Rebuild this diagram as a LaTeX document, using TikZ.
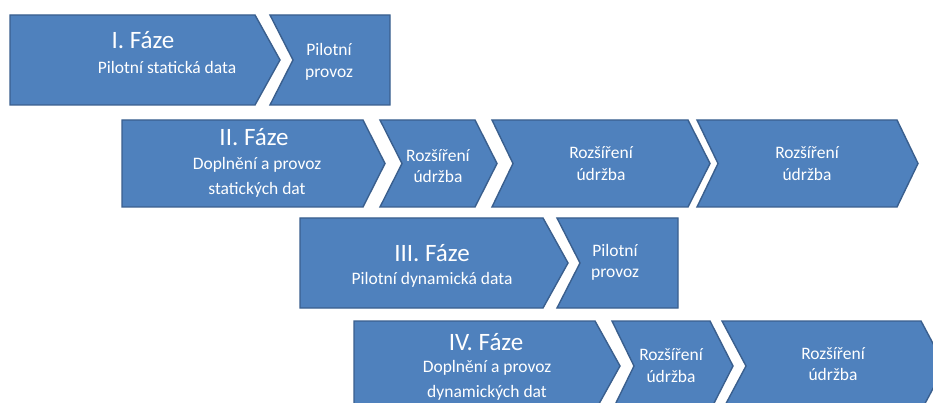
\documentclass[tikz,border=0pt]{standalone}
\usepackage{fontspec}
\setmainfont{Carlito}
\usepackage{tikz}

\definecolor{phasefill}{HTML}{4F81BD}
\definecolor{phaseline}{HTML}{3A5F8E}

\begin{document}
\begin{tikzpicture}[x=1pt, y=-1pt,
  block/.style={draw=phaseline, fill=phasefill, line width=1.4pt, line join=miter},
  ttl/.style={text=white, inner sep=0pt, font=\fontsize{25}{28}\selectfont},
  subtxt/.style={text=white, inner sep=0pt, align=center, font=\fontsize{17.5}{25}\selectfont},
  boxtxt/.style={text=white, inner sep=0pt, align=center, font=\fontsize{17.5}{21.5}\selectfont}]
  \fill[white] (0,0) rectangle (933,403);
  \useasboundingbox (0,0) rectangle (933,403);
  \clip (0,0) rectangle (933,403);

  % phase I
  \draw[block] (10,15) -- (255,15) -- (280,60) -- (255,105) -- (10,105) -- cycle;
  \draw[block] (270,15) -- (390,15) -- (390,105) -- (270,105) -- (293,60) -- cycle;
  \node[ttl] (t1) at (143,40) {I. Fáze};
  \node[subtxt] (s1) at (167,67) {Pilotní statická data};
  \node[boxtxt] (p1) at (329,62) {Pilotní\\provoz};

  % phase II
  \draw[block] (122,120) -- (363,120) -- (385,163.5) -- (363,207) -- (122,207) -- cycle;
  \draw[block] (380,120) -- (475,120) -- (497,163.5) -- (475,207) -- (380,207) -- (402,163.5) -- cycle;
  \draw[block] (492,120) -- (688,120) -- (710,163.5) -- (688,207) -- (492,207) -- (513,163.5) -- cycle;
  \draw[block] (697,120) -- (897,120) -- (918,163.5) -- (897,207) -- (697,207) -- (718,163.5) -- cycle;
  \node[ttl] (t2) at (254,137) {II. Fáze};
  \node[subtxt] (s2) at (257,177) {Doplnění a provoz\\statických dat};
  \node[boxtxt] (r2a) at (438,166) {Rozšíření\\údržba};
  \node[boxtxt] (r2b) at (601,163.5) {Rozšíření\\údržba};
  \node[boxtxt] (r2c) at (807,163.5) {Rozšíření\\údržba};

  % phase III
  \draw[block] (300,218) -- (543,218) -- (568,263) -- (543,308) -- (300,308) -- cycle;
  \draw[block] (557,218) -- (678,218) -- (678,308) -- (557,308) -- (580,263) -- cycle;
  \node[ttl] (t3) at (432,253) {III. Fáze};
  \node[subtxt] (s3) at (432,280) {Pilotní dynamická data};
  \node[boxtxt] (p3) at (615,262.5) {Pilotní\\provoz};

  % phase IV
  \draw[block] (354,321) -- (595,321) -- (620,366) -- (595,411) -- (354,411) -- cycle;
  \draw[block] (612,321) -- (710,321) -- (733,366) -- (710,411) -- (612,411) -- (634,366) -- cycle;
  \draw[block] (722,321) -- (921,321) -- (945,366) -- (921,411) -- (722,411) -- (746,366) -- cycle;
  \node[ttl] (t4) at (486,342) {IV. Fáze};
  \node[subtxt] (s4) at (487,380) {Doplnění a provoz\\dynamických dat};
  \node[boxtxt] (r4a) at (671,365.5) {Rozšíření\\údržba};
  \node[boxtxt] (r4b) at (833,364) {Rozšíření\\údržba};
\end{tikzpicture}
\end{document}
